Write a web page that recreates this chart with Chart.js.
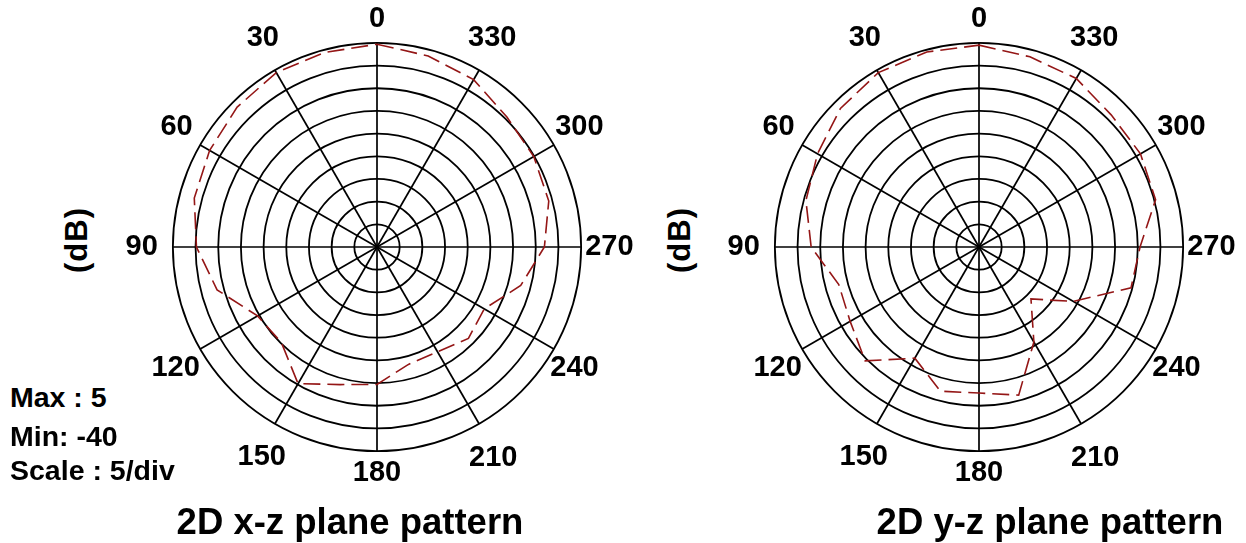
<!DOCTYPE html>
<html>
<head>
<meta charset="utf-8">
<script src="https://cdn.jsdelivr.net/npm/chart.js@4"></script>
<style>
  html, body { margin: 0; padding: 0; background: #fff; overflow: hidden; }
  #wrap { position: relative; width: 1246px; height: 543px; background: #fff; overflow: hidden;
          font-family: "Liberation Sans", Arial, Helvetica, sans-serif; color: #000; }
  canvas { position: absolute; }
  .txt { position: absolute; white-space: nowrap; font-weight: bold; line-height: 1; }
  .db { font-size: 31px; letter-spacing: 1px; transform: translate(-50%, -50%) rotate(-90deg); }
  .title { font-size: 36.5px; transform: translate(-50%, -50%); }
  .stat { font-size: 28.5px; transform: translateY(-50%); left: 10px; }
</style>
</head>
<body>
<div id="wrap">
  <canvas id="c1" width="526" height="526" style="left:117px; top:-14px;"></canvas>
  <canvas id="c2" width="526" height="526" style="left:719px; top:-14px;"></canvas>
  <div class="txt db" style="left:76px; top:240px;">(dB)</div>
  <div class="txt db" style="left:679px; top:240px;">(dB)</div>
  <div class="txt title" style="left:350px; top:522px;">2D x-z plane pattern</div>
  <div class="txt title" style="left:1050px; top:522px;">2D y-z plane pattern</div>
  <div class="txt stat" style="top:397px;">Max : 5</div>
  <div class="txt stat" style="top:436px;">Min: -40</div>
  <div class="txt stat" style="top:470px;">Scale : 5/div</div>
</div>
<script>
// Angles in degrees, listed clockwise from the top as drawn (0 at top, 90 on the left)
const angles = [0, 345, 330, 315, 300, 285, 270, 255, 240, 225, 210, 195,
                180, 165, 150, 135, 120, 105, 90, 75, 60, 45, 30, 15];

// 2D x-z plane pattern (dB)
const xzGain = [4.7, 3.6, 2.6, 0.5, -0.1, -0.8, -3.1, -7.2, -12.7, -11.5, -13.3, -13.2,
                -9.7, -8.6, -5.2, -10.2, -9.6, -3.5, -0.2, 1.7, 2.6, 3.6, 4.4, 4.4];

// 2D y-z plane pattern (dB)
const yzGain = [4.5, 3.4, 2.9, 1.2, 1.1, 0.3, -4.5, -5.3, -16.0, -23.8, -15.8, -6.2,
                -7.8, -7.1, -11.7, -4.5, -7.2, -8.0, -3.0, -0.5, 1.1, 3.2, 4.4, 4.5];

// Radial scale
const rMin = -40;
const rMax = 5;
const rStep = 5;

// Angle-label placement tweaks (padding px, line-height factor), keyed by label
const labelPad = { 0: 6, 30: -8, 60: 8.7, 90: 15, 120: 0.5, 150: -22,
                   180: 4, 210: -20, 240: -4, 270: 4, 300: 1.6, 330: -22 };
const labelLineHeight = { 0: 1.2, 30: 2.72, 60: 0.95, 90: 1.2, 120: 1.3, 150: 3.63,
                          180: 1.2, 210: 3.52, 240: 1.47, 270: 1.2, 300: 1.2, 330: 3.55 };

function makeChart(id, values) {
  return new Chart(document.getElementById(id), {
    type: 'radar',
    data: {
      labels: angles,
      datasets: [{
        data: values,
        borderColor: '#941616',
        borderWidth: 1.6,
        borderDash: [17, 7],
        pointRadius: 0,
        pointHoverRadius: 0,
        fill: false,
        tension: 0
      }]
    },
    options: {
      responsive: false,
      animation: false,
      events: [],
      layout: { padding: 0 },
      plugins: { legend: { display: false }, tooltip: { enabled: false } },
      scales: {
        r: {
          min: rMin,
          max: rMax,
          ticks: { stepSize: rStep, display: false },
          grid: { circular: true, color: '#000', lineWidth: 1.8 },
          angleLines: {
            color: '#000',
            lineWidth: (ctx) => (angles[ctx.index] % 30 === 0 ? 1.7 : 0)
          },
          pointLabels: {
            display: true,
            color: '#000',
            padding: (ctx) => {
              const a = angles[ctx.index];
              return a in labelPad ? labelPad[a] : 0;
            },
            font: (ctx) => {
              const a = angles[ctx.index];
              return {
                family: '"Liberation Sans", Arial, sans-serif',
                size: 29,
                weight: 'bold',
                lineHeight: a in labelLineHeight ? labelLineHeight[a] : 1.2
              };
            },
            callback: (label) => (label % 30 === 0 ? String(label) : '')
          }
        }
      }
    }
  });
}

makeChart('c1', xzGain);
makeChart('c2', yzGain);
</script>
</body>
</html>
